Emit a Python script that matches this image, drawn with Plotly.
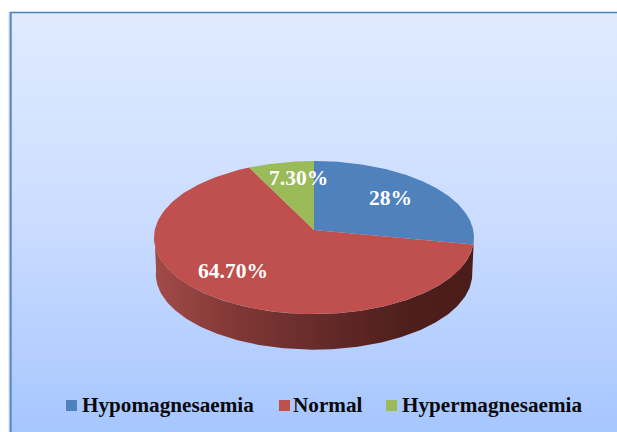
import numpy as np
import plotly.graph_objects as go

# Data
categories = ["Hypomagnesaemia", "Normal", "Hypermagnesaemia"]
values = [28.0, 64.7, 7.3]
value_labels = ["28%", "64.70%", "7.30%"]

# Styles
slice_colors = ["#4f81bd", "#c0504d", "#9bbb59"]
SERIF = "'Liberation Serif', 'Times New Roman', serif"
W, H = 617, 432

# Tilted-disc projection (pixel space)
K = -0.098


def project(theta, cx, cy, ax, by):
    """Clockwise angle from 12 o'clock on a disc -> screen position."""
    x, y = np.sin(theta), -np.cos(theta)
    d = 1 + K * y
    return cx + ax * x / d, cy + by * y / d


TOP = dict(cx=314.0, cy=230.0, ax=159.2, by=75.8)
BOT = dict(cx=314.0, cy=266.5, ax=157.5, by=75.0)

fig = go.Figure()

# Chart-area background with its vertical gradient
fig.add_trace(go.Scatter(
    x=[11, W + 2, W + 2, 11, 11], y=[13, 13, H + 2, H + 2, 13],
    mode="lines", line=dict(width=0), fill="toself",
    fillgradient=dict(type="vertical", start=13, stop=432,
                      colorscale=[[0, "#e0ebff"], [0.5, "#cbdcff"], [1, "#a6c6ff"]]),
    hoverinfo="skip", showlegend=False))

# Side wall of the disc (front part of the rim)
front = np.linspace(np.radians(95), np.radians(268), 200)
tx, ty = project(front, **TOP)
bx, by = project(front, **BOT)
fig.add_trace(go.Scatter(
    x=np.r_[tx, bx[::-1], tx[0]], y=np.r_[ty, by[::-1], ty[0]],
    mode="lines", line=dict(width=0), fill="toself",
    fillgradient=dict(type="horizontal", start=154, stop=474,
                      colorscale=[[0, "#a24b49"], [0.27, "#7f3735"], [0.58, "#5f2826"],
                                  [0.8, "#4e1e1c"], [1, "#4a1c1a"]]),
    hoverinfo="skip", showlegend=False))

# Top face slices, built from the values
edges = np.r_[0, np.cumsum(values)] / sum(values) * 2 * np.pi
for i, name in enumerate(categories):
    arc = np.linspace(edges[i], edges[i + 1], 160)
    ax_, ay_ = project(arc, **TOP)
    fig.add_trace(go.Scatter(
        x=np.r_[TOP["cx"], ax_, TOP["cx"]], y=np.r_[TOP["cy"], ay_, TOP["cy"]],
        mode="lines", line=dict(width=0, color=slice_colors[i]), fill="toself",
        fillcolor=slice_colors[i], name=name, hoverinfo="name", showlegend=False))

annotations = []
# Value labels
for text, (x, y) in zip(value_labels, [(390, 198), (233, 271), (298, 178)]):
    annotations.append(dict(x=x, y=y, xref="x", yref="y", text=f"<b>{text}</b>", showarrow=False,
                            font=dict(family=SERIF, size=21.5, color="white")))

# Legend row
legend_x = [(66, 82), (279, 293), (386, 402)]
shapes = [
    dict(type="line", x0=10.5, x1=10.5, y0=12, y1=H + 2, xref="x", yref="y",
         line=dict(color="#5b8ac6", width=2.5)),
    dict(type="line", x0=10, x1=W + 2, y0=12.5, y1=12.5, xref="x", yref="y",
         line=dict(color="#4a80c0", width=1.5)),
    dict(type="line", x0=9, x1=9, y0=12, y1=H + 2, xref="x", yref="y",
         line=dict(color="#d3d8e2", width=1)),
]
for name, color, (sx, tx_) in zip(categories, slice_colors, legend_x):
    shapes.append(dict(type="rect", x0=sx, x1=sx + 11, y0=400, y1=411, xref="x", yref="y",
                       fillcolor=color, line=dict(width=0)))
    annotations.append(dict(x=tx_, y=405, xref="x", yref="y", xanchor="left", text=f"<b>{name}</b>",
                            showarrow=False, xshift=-2,
                            font=dict(family=SERIF, size=21.2, color="#0a0a0a")))

fig.update_layout(
    width=W, height=H, margin=dict(l=0, r=0, t=0, b=0, pad=0),
    paper_bgcolor="white", plot_bgcolor="white", showlegend=False,
    xaxis=dict(range=[0, W], visible=False, fixedrange=True),
    yaxis=dict(range=[H, 0], visible=False, fixedrange=True),
    annotations=annotations, shapes=shapes)

fig.write_html("out.html", config=dict(displayModeBar=False),
               post_script="document.body.style.margin='0';document.documentElement.style.overflow='hidden';")
